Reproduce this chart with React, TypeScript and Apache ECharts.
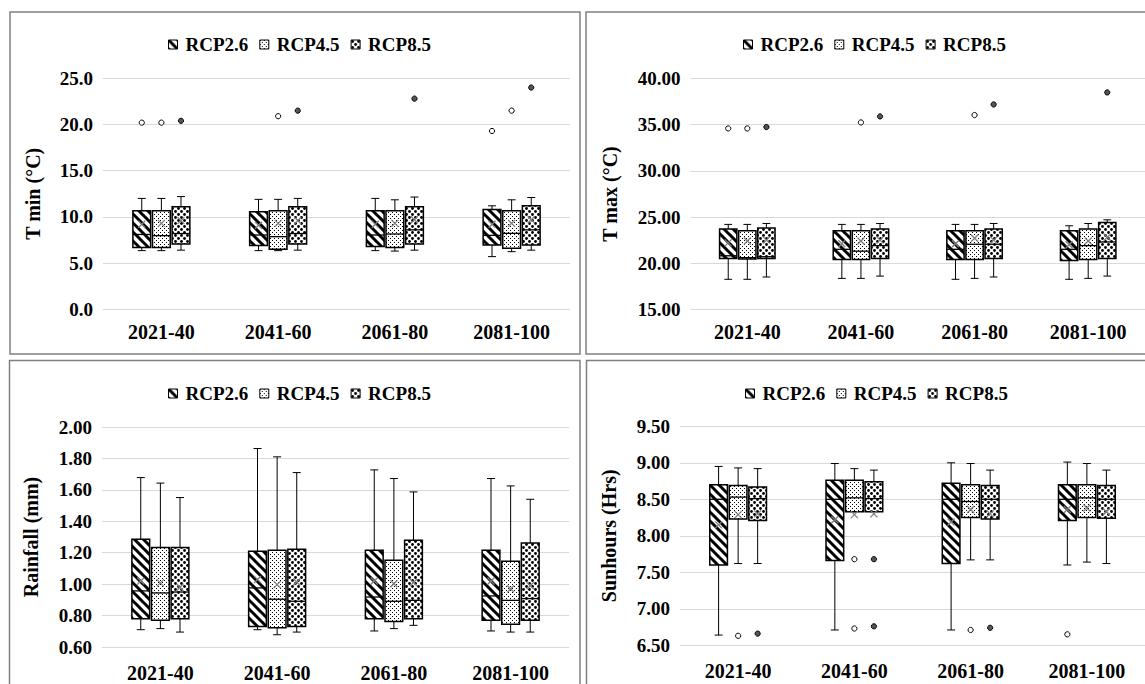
import React, { useEffect, useRef } from 'react';
import * as echarts from 'echarts';

const categories = ['2021-40', '2041-60', '2061-80', '2081-100'];
const scenarios = ['RCP2.6', 'RCP4.5', 'RCP8.5'];

// box values: [min, Q1, median, Q3, max]
const tminRcp26 = [[6.35, 6.7, 8.1, 10.67, 12.0], [6.35, 6.9, 8.04, 10.56, 11.9], [6.35, 6.8, 8.04, 10.67, 12.0], [5.7, 6.96, 8.0, 10.8, 11.2]];
const tminRcp45 = [[6.35, 6.7, 7.97, 10.67, 12.0], [6.35, 6.5, 7.86, 10.67, 11.9], [6.3, 6.7, 8.15, 10.67, 11.85], [6.24, 6.6, 8.22, 10.67, 11.85]];
const tminRcp85 = [[6.4, 7.07, 8.2, 11.1, 12.2], [6.4, 7.07, 8.2, 11.1, 12.0], [6.4, 7.07, 8.6, 11.1, 12.15], [6.4, 6.96, 8.6, 11.2, 12.1]];
const tminMean26 = [9.2, 9.1, 9.2, 9.2];
const tminMean45 = [9.3, 9.3, 9.3, 9.3];
const tminMean85 = [9.6, 9.6, 9.7, 9.7];
const tminOut26 = [[0, 20.2], [3, 19.3]];
const tminOut45 = [[0, 20.2], [1, 20.9], [3, 21.5]];
const tminOut85 = [[0, 20.4], [1, 21.5], [2, 22.8], [3, 24.0]];

const tmaxRcp26 = [[18.25, 20.5, 20.8, 23.7, 24.2], [18.35, 20.4, 21.5, 23.5, 24.2], [18.25, 20.4, 21.5, 23.5, 24.2], [18.25, 20.3, 21.5, 23.5, 24.05]];
const tmaxRcp45 = [[18.25, 20.45, 20.6, 23.5, 24.2], [18.35, 20.4, 21.3, 23.5, 24.2], [18.35, 20.4, 22.05, 23.5, 24.2], [18.35, 20.4, 21.9, 23.7, 24.3]];
const tmaxRcp85 = [[18.5, 20.5, 20.7, 23.8, 24.3], [18.6, 20.5, 21.9, 23.7, 24.3], [18.5, 20.5, 22.05, 23.7, 24.3], [18.6, 20.5, 22.3, 24.4, 24.7]];
const tmaxMean26 = [22.2, 22.1, 22.1, 22.0];
const tmaxMean45 = [22.4, 22.4, 22.7, 22.4];
const tmaxMean85 = [22.5, 22.5, 22.5, 22.8];
const tmaxOut26 = [[0, 34.6]];
const tmaxOut45 = [[0, 34.6], [1, 35.25], [2, 36.05]];
const tmaxOut85 = [[0, 34.75], [1, 35.9], [2, 37.2], [3, 38.5]];

const rainRcp26 = [[0.71, 0.78, 0.957, 1.286, 1.678], [0.71, 0.73, 0.976, 1.21, 1.863], [0.702, 0.78, 0.918, 1.216, 1.727], [0.702, 0.77, 0.925, 1.216, 1.672]];
const rainRcp45 = [[0.717, 0.77, 0.944, 1.233, 1.643], [0.678, 0.723, 0.904, 1.216, 1.81], [0.717, 0.763, 0.891, 1.152, 1.672], [0.695, 0.745, 0.897, 1.146, 1.625]];
const rainRcp85 = [[0.695, 0.78, 0.95, 1.233, 1.551], [0.695, 0.73, 0.891, 1.222, 1.71], [0.738, 0.78, 0.897, 1.28, 1.587], [0.695, 0.77, 0.908, 1.262, 1.54]];
const rainMean26 = [1.02, 1.03, 1.02, 1.02];
const rainMean45 = [1.008, 0.997, 1.003, 0.97];
const rainMean85 = [0.98, 1.014, 1.01, 0.99];
const rainOut26: number[][] = [];
const rainOut45: number[][] = [];
const rainOut85: number[][] = [];

const sunRcp26 = [[6.64, 7.6, 8.5, 8.7, 8.95], [6.71, 7.66, 8.5, 8.76, 8.99], [6.71, 7.62, 8.5, 8.72, 9.0], [7.6, 8.21, 8.5, 8.7, 9.01]];
const sunRcp45 = [[7.62, 8.23, 8.53, 8.69, 8.93], [8.33, 8.33, 8.52, 8.76, 8.92], [7.67, 8.25, 8.47, 8.7, 8.99], [7.64, 8.25, 8.52, 8.7, 8.99]];
const sunRcp85 = [[7.62, 8.21, 8.51, 8.67, 8.92], [8.33, 8.33, 8.51, 8.74, 8.9], [7.67, 8.23, 8.5, 8.69, 8.9], [7.62, 8.24, 8.5, 8.69, 8.9]];
const sunMean26 = [8.15, 8.22, 8.19, 8.36];
const sunMean45 = [8.29, 8.29, 8.36, 8.38];
const sunMean85 = [8.3, 8.3, 8.3, 8.33];
const sunOut26 = [[3, 6.65]];
const sunOut45 = [[0, 6.63], [1, 7.68], [1, 6.73], [2, 6.71]];
const sunOut85 = [[0, 6.66], [1, 7.68], [1, 6.76], [2, 6.74]];

const FONT = '"Liberation Serif", "Times New Roman", serif';

function makeTile(kind: string) {
  const c = document.createElement('canvas');
  let s = 9;
  if (kind === 'fine') s = 4;
  if (kind === 'coarse') s = 6;
  c.width = s;
  c.height = s;
  const g = c.getContext('2d') as CanvasRenderingContext2D;
  g.fillStyle = '#fff';
  g.fillRect(0, 0, s, s);
  if (kind === 'hatch') {
    g.strokeStyle = '#000';
    g.lineWidth = 3;
    g.beginPath();
    for (const d of [-s, 0, s]) {
      g.moveTo(d - 1, -1);
      g.lineTo(d + s + 1, s + 1);
    }
    g.stroke();
  } else if (kind === 'fine') {
    g.fillStyle = '#000';
    g.fillRect(0, 0, 1, 1);
    g.fillRect(2, 2, 1, 1);
  } else {
    g.fillStyle = '#000';
    g.beginPath();
    g.arc(1.5, 1.5, 1.4, 0, Math.PI * 2);
    g.fill();
    g.beginPath();
    g.arc(4.5, 4.5, 1.4, 0, Math.PI * 2);
    g.fill();
  }
  return { image: c.toDataURL(), repeat: 'repeat', imageWidth: s, imageHeight: s };
}

const panelDefs = [
  {
    name: 'T min (°C)', min: 0, max: 25, interval: 5, dec: 1,
    grid: { left: 103, top: 78.3, width: 467, height: 231 },
    nameGap: 60, xMargin: 13, legend: { left: 163, top: 30 },
    border: { x: 10, y: 12, width: 570, height: 342 },
    boxes: [tminRcp26, tminRcp45, tminRcp85], means: [tminMean26, tminMean45, tminMean85], outs: [tminOut26, tminOut45, tminOut85],
  },
  {
    name: 'T max (°C)', min: 15, max: 40, interval: 5, dec: 2,
    grid: { left: 690.5, top: 78.6, width: 456, height: 230.7 },
    nameGap: 71, xMargin: 13, legend: { left: 738, top: 30 },
    border: { x: 586, y: 12, width: 600, height: 342 },
    boxes: [tmaxRcp26, tmaxRcp45, tmaxRcp85], means: [tmaxMean26, tmaxMean45, tmaxMean85], outs: [tmaxOut26, tmaxOut45, tmaxOut85],
  },
  {
    name: 'Rainfall (mm)', min: 0.6, max: 2.0, interval: 0.2, dec: 2,
    grid: { left: 102, top: 427, width: 467, height: 220 },
    nameGap: 61, xMargin: 16, legend: { left: 163, top: 379 },
    border: { x: 9.5, y: 360.5, width: 570.5, height: 400 },
    boxes: [rainRcp26, rainRcp45, rainRcp85], means: [rainMean26, rainMean45, rainMean85], outs: [rainOut26, rainOut45, rainOut85],
  },
  {
    name: 'Sunhours (Hrs)', min: 6.5, max: 9.5, interval: 0.5, dec: 2,
    grid: { left: 680, top: 426.3, width: 467, height: 219 },
    nameGap: 61, xMargin: 16, legend: { left: 740, top: 379 },
    border: { x: 586.5, y: 360.5, width: 600, height: 400 },
    boxes: [sunRcp26, sunRcp45, sunRcp85], means: [sunMean26, sunMean45, sunMean85], outs: [sunOut26, sunOut45, sunOut85],
  },
];

const outFill = ['#ffffff', '#ffffff', '#555555'];

export default function App() {
  const ref = useRef<HTMLDivElement>(null);
  useEffect(() => {
    if (!ref.current) return;
    const chart = echarts.init(ref.current, undefined, { renderer: 'svg' });
    const patterns = [makeTile('hatch'), makeTile('fine'), makeTile('coarse')];

    const grids: any[] = [];
    const xAxes: any[] = [];
    const yAxes: any[] = [];
    const legends: any[] = [];
    const series: any[] = [];
    const graphics: any[] = [];

    panelDefs.forEach((p, pi) => {
      grids.push({ ...p.grid, containLabel: false });
      xAxes.push({
        type: 'category', gridIndex: pi, data: categories,
        axisLine: { show: false }, axisTick: { show: false },
        axisLabel: { fontFamily: FONT, fontWeight: 'bold', fontSize: 20, color: '#000', margin: p.xMargin },
      });
      yAxes.push({
        type: 'value', gridIndex: pi, min: p.min, max: p.max, interval: p.interval,
        name: p.name, nameLocation: 'middle', nameGap: p.nameGap, nameRotate: 90,
        nameTextStyle: { fontFamily: FONT, fontWeight: 'bold', fontSize: 20, color: '#000' },
        axisLine: { show: false }, axisTick: { show: false },
        axisLabel: {
          fontFamily: FONT, fontWeight: 'bold', fontSize: 19, color: '#000', margin: 10,
          formatter: (v: number) => v.toFixed(p.dec),
        },
        splitLine: { lineStyle: { color: '#d9d9d9', width: 1 } },
      });
      legends.push({
        left: p.legend.left, top: p.legend.top, orient: 'horizontal',
        data: scenarios, icon: 'rect', itemWidth: 9, itemHeight: 9, itemGap: 11,
        selectedMode: false,
        itemStyle: { borderColor: '#000', borderWidth: 1 },
        textStyle: { fontFamily: FONT, fontWeight: 'bold', fontSize: 19, color: '#000', padding: [0, 0, 0, 3] },
      });
      graphics.push({
        type: 'rect', silent: true, z: -1,
        shape: p.border,
        style: { fill: 'none', stroke: '#808080', lineWidth: 1.5 },
      });

      scenarios.forEach((sName, k) => {
        const pattern = patterns[k];
        series.push({
          type: 'custom', name: sName, xAxisIndex: pi, yAxisIndex: pi,
          itemStyle: { color: pattern, borderColor: '#000', borderWidth: 1 },
          data: p.boxes[k].map((b, i) => [i, ...b, p.means[k][i]]),
          z: 2,
          renderItem: (params: any, api: any) => {
            const cat = api.value(0);
            const band = api.size([1, 0])[0];
            const cx = api.coord([cat, p.min])[0] + (k - 1) * band * 0.168;
            const yy = (j: number) => api.coord([cat, api.value(j)])[1];
            const yMin = yy(1), yQ1 = yy(2), yMed = yy(3), yQ3 = yy(4), yMax = yy(5), yMean = yy(6);
            const bw = band * 0.152;
            const cw = bw * 0.45;
            const m = 3.5;
            const ln = (x1: number, y1: number, x2: number, y2: number, stroke = '#000', lw = 1) => ({
              type: 'line', shape: { x1, y1, x2, y2 }, style: { stroke, lineWidth: lw },
            });
            return {
              type: 'group',
              children: [
                ln(cx, yMax, cx, yQ3),
                ln(cx - cw / 2, yMax, cx + cw / 2, yMax),
                ln(cx, yQ1, cx, yMin),
                ln(cx - cw / 2, yMin, cx + cw / 2, yMin),
                {
                  type: 'rect',
                  shape: { x: cx - bw / 2, y: yQ3, width: bw, height: yQ1 - yQ3 },
                  style: { fill: pattern, stroke: '#000', lineWidth: 1.5 },
                },
                ln(cx - bw / 2, yMed, cx + bw / 2, yMed, '#000', 1.3),
                ln(cx - m, yMean - m, cx + m, yMean + m, '#7f7f7f', 1.3),
                ln(cx - m, yMean + m, cx + m, yMean - m, '#7f7f7f', 1.3),
              ],
            };
          },
        });
        series.push({
          type: 'custom', name: sName + ' outliers', xAxisIndex: pi, yAxisIndex: pi,
          data: p.outs[k],
          z: 3,
          renderItem: (params: any, api: any) => {
            const cat = api.value(0);
            const band = api.size([1, 0])[0];
            const pt = api.coord([cat, api.value(1)]);
            return {
              type: 'circle',
              shape: { cx: pt[0] + (k - 1) * band * 0.168, cy: pt[1], r: 2.6 },
              style: { fill: outFill[k], stroke: '#000', lineWidth: 1 },
            };
          },
        });
      });
    });

    chart.setOption({
      animation: false,
      backgroundColor: '#ffffff',
      grid: grids,
      xAxis: xAxes,
      yAxis: yAxes,
      legend: legends,
      series,
      graphic: graphics,
    });
    return () => chart.dispose();
  }, []);

  return (
    <div
      ref={ref}
      style={{ position: 'absolute', left: 0, top: 0, width: 1145, height: 684, background: '#fff' }}
    />
  );
}
